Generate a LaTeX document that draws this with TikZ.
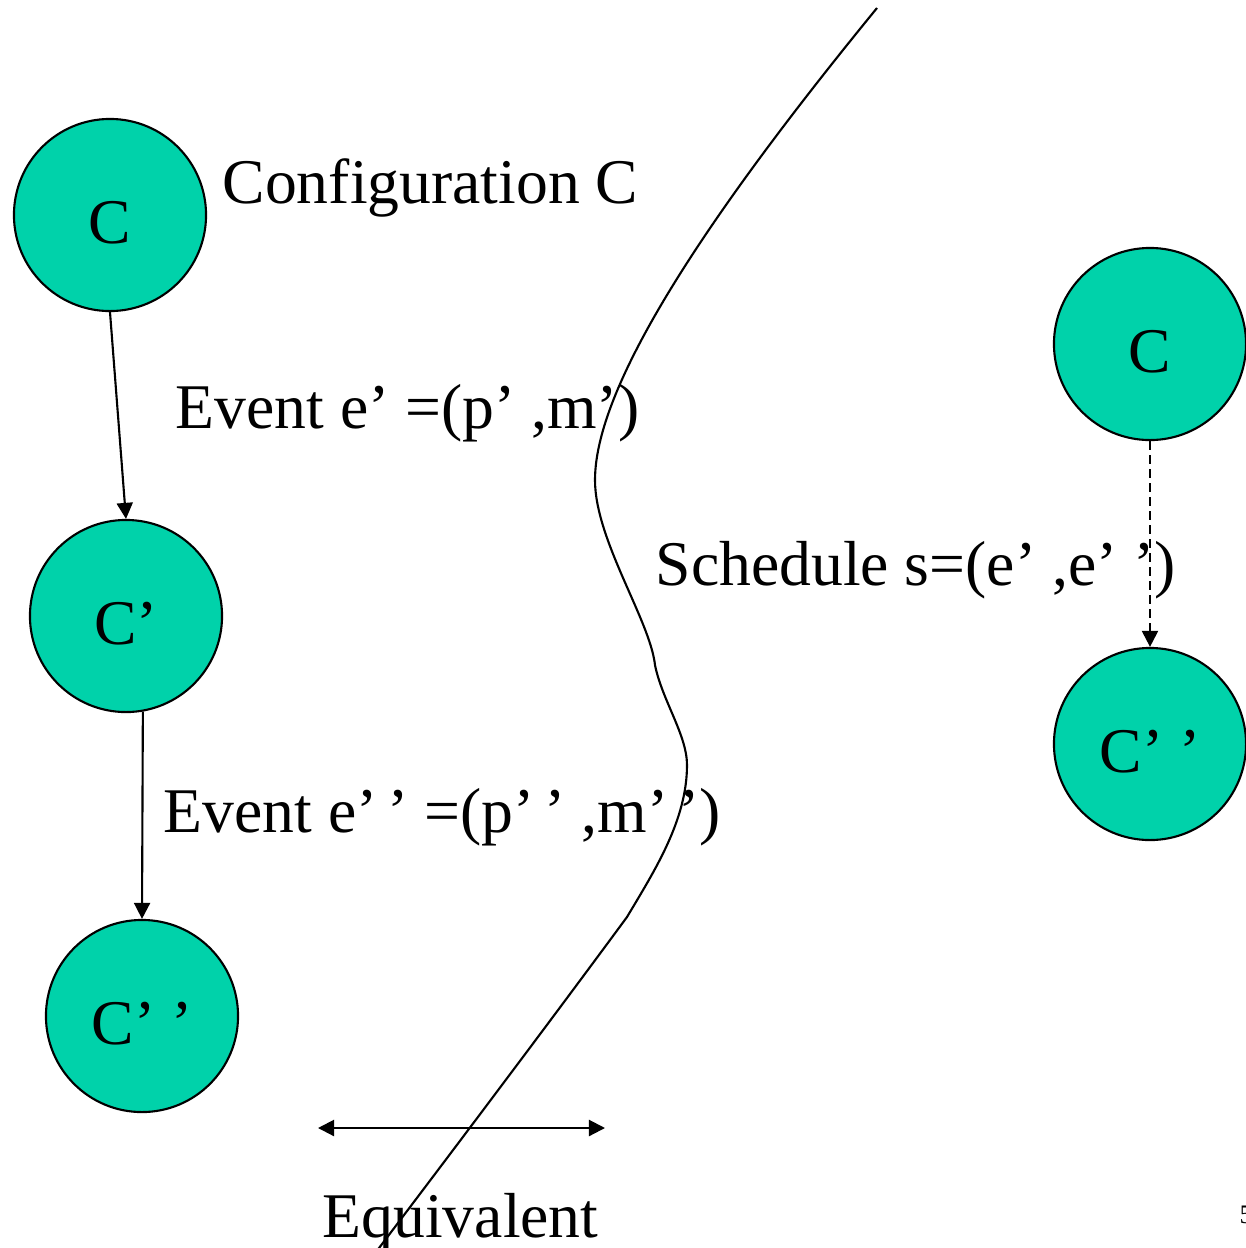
\documentclass[tikz,border=0pt]{standalone}
\usepackage{fontspec}
\setmainfont{Liberation Serif}
\usetikzlibrary{arrows.meta}
\definecolor{cfgteal}{RGB}{0,210,170}
\begin{document}
\begin{tikzpicture}[x=0.01cm,y=-0.01cm,
  cfg/.style={circle,draw=black,line width=0.6pt,fill=cfgteal,minimum size=1.92cm,inner sep=0pt,
    font=\fontsize{18.1pt}{20pt}\selectfont,text height=0.6cm,text depth=0.04cm},
  txt/.style={anchor=base west,inner sep=0pt,font=\fontsize{18.1pt}{20pt}\selectfont},
  conn/.style={line width=0.6pt,-{Triangle[length=0.16cm,width=0.16cm]}},
  dconn/.style={conn,dash pattern=on 0.09cm off 0.05cm}]
\useasboundingbox (0,0) rectangle (1246,1248);
\clip (0,0) rectangle (1246,1248);
% divider curve
\draw[line width=0.6pt] (877,8) .. controls (720,200) and (595,380) .. (595,480)
  .. controls (595,540) and (650,620) .. (655,665)
  .. controls (662,700) and (687,735) .. (687,765)
  .. controls (687,820) and (655,870) .. (627,917)
  .. controls (560,1008) and (470,1128) .. (376,1252);
% left configurations
\node[cfg] (c1) at (110,215) {C};
\node[cfg] (c2) at (126,616) {C’};
\node[cfg] (c3) at (142,1016) {C’ ’};
% right configurations
\node[cfg] (r1) at (1150,344) {C};
\node[cfg] (r2) at (1150,744) {C’ ’};
% labels
\node[txt] (lconf) at (222,203) {Configuration C};
\node[txt] (lev1) at (175,428) {Event e’ =(p’ ,m’)};
\node[txt] (lev2) at (163,832) {Event e’\hspace{0.1cm}’ =(p’\hspace{0.1cm}’ ,m’\hspace{0.1cm}’)};
\node[txt] (lsch) at (655,585) {Schedule s=(e’ ,e’ ’)};
\node[txt] (leq) at (322,1237) {Equivalent};
\node[anchor=base west,inner sep=0pt,font=\fontsize{7.6pt}{9pt}\selectfont] (pnum) at (1239,1223) {5};
% connectors
\draw[conn] (c1.south) -- (c2.north);
\draw[conn] (c2.-80) -- (c3.north);
\draw[dconn] (r1.south) -- (r2.north);
\coordinate (eqL) at (318,1128);
\coordinate (eqR) at (605,1128);
\draw[line width=0.6pt,{Triangle[length=0.16cm,width=0.16cm]}-{Triangle[length=0.16cm,width=0.16cm]}] (eqL) -- (eqR);
\end{tikzpicture}
\end{document}
